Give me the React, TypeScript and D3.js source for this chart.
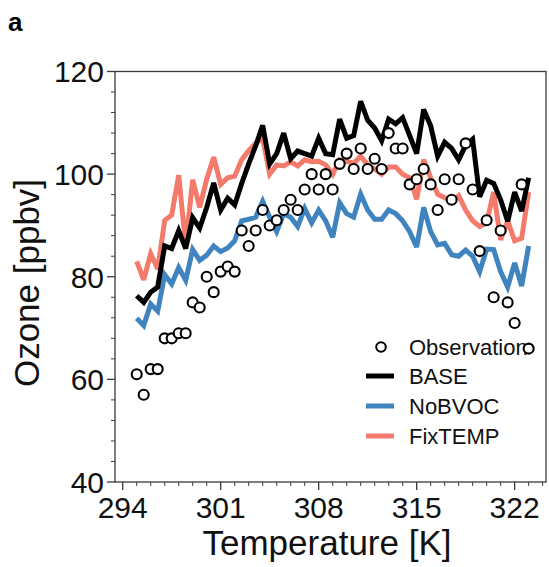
import React from "react";
import * as d3 from "d3";

const temps = [295,295.5,296,296.5,297,297.5,298,298.5,299,299.5,300,300.5,301,301.5,302,302.5,303,303.5,304,304.5,305,305.5,306,306.5,307,307.5,308,308.5,309,309.5,310,310.5,311,311.5,312,312.5,313,313.5,314,314.5,315,315.5,316,316.5,317,317.5,318,318.5,319,319.5,320,320.5,321,321.5,322,322.5,323];

const observation = [61,57,62,62,68,68,69,69,75,74,80,77,81,82,81,89,86,89,93,90,91,93,95,93,97,100,97,100,97,102,104,101,105,101,103,101,108,105,105,98,99,101,98,93,99,95,99,106,97,85,91,76,89,75,71,98,66];

const base = [76.3,75,77,78,86,85.5,89,85.5,91.5,89.5,93.5,98.3,93,95.3,94,98.2,102,105.5,109.5,102,104,108,103,104.5,104,103.5,107,104,103.8,110.7,107,107.5,114.2,110.5,109,106.5,110.7,109.8,111,107.5,104,112.6,109.4,103.5,106.2,105,102.8,105.6,106.8,95.6,98.8,98.2,95,90.8,96.5,92.8,99.3];

const noBVOC = [71.9,70.5,74.7,73.3,80.4,78.6,81.8,79.3,85.3,83.2,84.2,86,84.9,85.6,87,90.9,91.2,91.6,94.7,91.6,88.8,92.3,91.6,89.8,93.3,90.5,93,90.9,87.7,94.4,92.3,91.6,96.1,93,91.2,91.2,93,92.3,90.9,88.8,85.8,93.5,88.8,86.2,86.5,84.3,84,85.2,84,81,85.4,85.3,81,78,82.7,78.2,86];

const fixTEMP = [83,79.4,84.5,81.5,91,92,99.8,86.2,98.9,93.5,99,103.3,98,99.3,99.6,102.8,104.6,106,107,100,101.8,101.6,102.4,101.6,102.8,102.4,102.5,101.8,100,102.8,102.5,102.1,103.5,101.8,101,100,101.4,101.4,100,99.3,95.1,102.8,99.3,96.1,95.4,94.7,95.8,93,90.9,89.8,90.5,96.5,87.2,90.9,87,87.5,96.5];

const xMajorTicks = [294, 301, 308, 315, 322];
const yMajorTicks = [40, 60, 80, 100, 120];
const legendLabels = ["Observation", "BASE", "NoBVOC", "FixTEMP"];

const W = 549, H = 567;
const L = 115, R = 546, T = 71.5, B = 482;
const FONT = "'Liberation Sans', Arial, Helvetica, sans-serif";
const BLACK = "#000000", BLUE = "#3f83bf", RED = "#f47a6c";

export default function App() {
  const x = d3.scaleLinear().domain([293.45, 324.24]).range([L, R]);
  const y = d3.scaleLinear().domain([40, 120]).range([B, T]);
  const line = (vals: number[]) =>
    d3.line<number>().x((_, i) => x(temps[i])).y((v) => y(v))(vals) || "";

  const xMinor = d3.range(294, 325, 1).filter((t) => !xMajorTicks.includes(t));
  const yMinor = d3.range(40, 121, 4).filter((t) => !yMajorTicks.includes(t));
  const spine = "#3a3a3a";

  const legendY = [347, 376, 406, 436];
  const series = [
    { vals: fixTEMP, color: RED },
    { vals: noBVOC, color: BLUE },
    { vals: base, color: BLACK },
  ];

  return (
    <svg width={W} height={H} style={{ position: "absolute", left: 0, top: 0, background: "#fff" }} fontFamily={FONT}>
      <defs>
        <clipPath id="plotclip">
          <rect x={L} y={T} width={R - L} height={B - T} />
        </clipPath>
      </defs>
      <rect x={0} y={0} width={W} height={H} fill="#fff" />
      <text x={8} y={31} fontSize={26} fontWeight="bold" fill="#000">a</text>

      {/* spines */}
      <rect x={L} y={T} width={R - L} height={B - T} fill="none" stroke={spine} strokeWidth={1.3} />

      {/* x ticks */}
      {xMajorTicks.map((t) => (
        <g key={"xm" + t}>
          <line x1={x(t)} x2={x(t)} y1={B} y2={B + 8} stroke={spine} strokeWidth={1.3} />
          <text x={x(t)} y={518} fontSize={30} textAnchor="middle" fill="#111">{t}</text>
        </g>
      ))}
      {xMinor.map((t) => (
        <line key={"xn" + t} x1={x(t)} x2={x(t)} y1={B} y2={B + 4} stroke={spine} strokeWidth={1} />
      ))}
      {/* y ticks */}
      {yMajorTicks.map((t) => (
        <g key={"ym" + t}>
          <line x1={L - 8} x2={L} y1={y(t)} y2={y(t)} stroke={spine} strokeWidth={1.3} />
          <text x={L - 11} y={y(t)} dy="0.36em" fontSize={30} textAnchor="end" fill="#111">{t}</text>
        </g>
      ))}
      {yMinor.map((t) => (
        <line key={"yn" + t} x1={L - 4} x2={L} y1={y(t)} y2={y(t)} stroke={spine} strokeWidth={1} />
      ))}

      {/* axis titles */}
      <text x={327} y={555} fontSize={35} textAnchor="middle" fill="#111">Temperature [K]</text>
      <text transform="translate(39,283) rotate(-90)" fontSize={35} textAnchor="middle" fill="#111">Ozone [ppbv]</text>

      {/* lines */}
      <g clipPath="url(#plotclip)">
        {series.map((s, i) => (
          <path key={i} d={line(s.vals)} fill="none" stroke={s.color} strokeWidth={5} strokeLinejoin="miter" strokeMiterlimit={3} />
        ))}
      </g>

      {/* legend */}
      <g fontSize={22} fill="#111">
        <circle cx={381} cy={legendY[0]} r={4.8} fill="#fff" stroke="#000" strokeWidth={2} />
        <line x1={366} x2={394} y1={legendY[1]} y2={legendY[1]} stroke={BLACK} strokeWidth={5} />
        <line x1={366} x2={394} y1={legendY[2]} y2={legendY[2]} stroke={BLUE} strokeWidth={5} />
        <line x1={366} x2={394} y1={legendY[3]} y2={legendY[3]} stroke={RED} strokeWidth={5} />
        {legendLabels.map((lab, i) => (
          <text key={lab} x={409} y={legendY[i]} dy="0.36em">{lab}</text>
        ))}
      </g>

      {/* observations */}
      <g>
        {observation.map((v, i) => (
          <circle key={i} cx={x(temps[i])} cy={y(v)} r={5} fill="#fff" stroke="#000" strokeWidth={2.1} />
        ))}
      </g>
    </svg>
  );
}
